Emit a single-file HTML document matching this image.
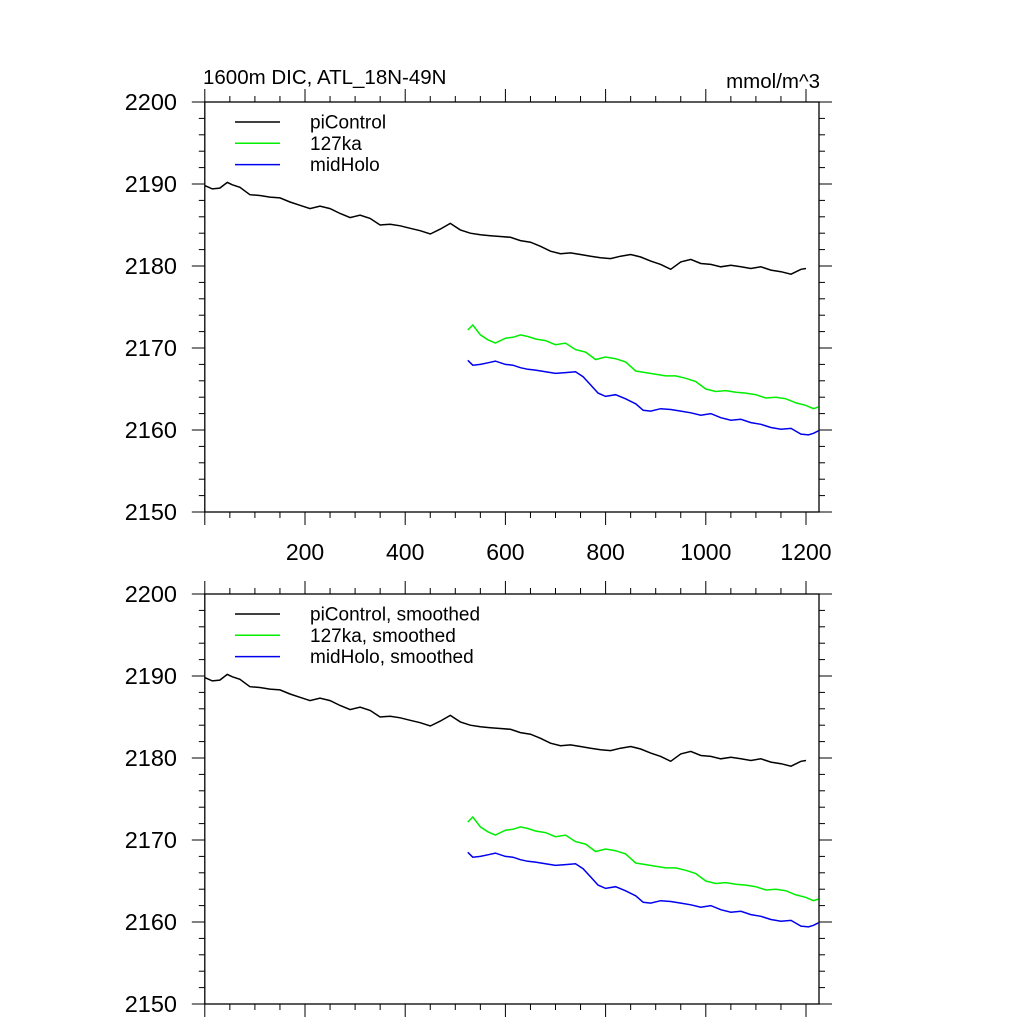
<!DOCTYPE html>
<html><head><meta charset="utf-8"><style>
html,body{margin:0;padding:0;background:#fff}
svg{display:block}
text{font-family:"Liberation Sans",Arial,sans-serif;fill:#000}
</style></head><body>
<svg id="chart" width="1024" height="1024" viewBox="0 0 1024 1024" xmlns="http://www.w3.org/2000/svg">
<text x="203" y="84" font-size="20.5">1600m DIC, ATL_18N-49N</text>
<text x="820" y="88" font-size="20.5" text-anchor="end">mmol/m^3</text>
</svg>
<script>
const piYears = [0,15,30,45,55,70,90,110,130,150,170,190,210,230,250,270,290,310,330,350,370,390,410,430,450,470,490,510,530,550,570,590,610,630,650,670,690,710,730,750,770,790,810,830,850,870,890,910,930,950,970,990,1010,1030,1050,1070,1090,1110,1130,1150,1170,1190,1200];
const piValues = [2189.8,2189.4,2189.5,2190.2,2189.9,2189.6,2188.7,2188.6,2188.4,2188.3,2187.8,2187.4,2187.0,2187.3,2187.0,2186.4,2185.9,2186.2,2185.8,2185.0,2185.1,2184.9,2184.6,2184.3,2183.9,2184.5,2185.2,2184.4,2184.0,2183.8,2183.7,2183.6,2183.5,2183.1,2182.9,2182.4,2181.8,2181.5,2181.6,2181.4,2181.2,2181.0,2180.9,2181.2,2181.4,2181.1,2180.6,2180.2,2179.6,2180.5,2180.8,2180.3,2180.2,2179.9,2180.1,2179.9,2179.7,2179.9,2179.5,2179.3,2179.0,2179.6,2179.7];
const laYears = [525,535,550,565,580,600,615,630,645,660,680,700,720,740,760,780,800,820,840,860,880,900,920,940,960,980,1000,1020,1040,1060,1080,1100,1120,1140,1160,1180,1200,1215,1225];
const laValues = [2172.2,2172.8,2171.6,2171.0,2170.6,2171.2,2171.3,2171.6,2171.4,2171.1,2170.9,2170.4,2170.6,2169.8,2169.5,2168.6,2168.9,2168.7,2168.3,2167.2,2167.0,2166.8,2166.6,2166.6,2166.3,2165.9,2165.0,2164.7,2164.8,2164.6,2164.5,2164.3,2163.9,2164.0,2163.8,2163.3,2163.0,2162.6,2162.8];
const mhYears = [525,535,550,565,580,600,615,630,645,660,680,700,720,740,755,770,785,800,820,840,860,875,890,910,930,950,970,990,1010,1030,1050,1070,1090,1110,1130,1150,1170,1190,1205,1215,1225];
const mhValues = [2168.5,2167.9,2168.0,2168.2,2168.4,2168.0,2167.9,2167.6,2167.4,2167.3,2167.1,2166.9,2167.0,2167.1,2166.5,2165.5,2164.5,2164.1,2164.3,2163.8,2163.2,2162.4,2162.3,2162.6,2162.5,2162.3,2162.1,2161.8,2162.0,2161.5,2161.2,2161.3,2160.9,2160.7,2160.3,2160.1,2160.2,2159.5,2159.4,2159.6,2159.9];
const xTicks = [200,400,600,800,1000,1200];
const yTicks = [2150,2160,2170,2180,2190,2200];
const legendTop = ["piControl","127ka","midHolo"];
const legendBottom = ["piControl, smoothed","127ka, smoothed","midHolo, smoothed"];

const NS="http://www.w3.org/2000/svg";
const svg=document.getElementById('chart');
const L=204.8, R=819, XMIN=0, XMAX=(819-204.8)/0.501;
function xs(v){return L+(v-XMIN)/(XMAX-XMIN)*(R-L);}
function mk(tag,attrs,parent){const e=document.createElementNS(NS,tag);for(const k in attrs)e.setAttribute(k,attrs[k]);(parent||svg).appendChild(e);return e;}

function panel(top,bottom,showX,legend,prefix){
  const g=mk('g',{});
  
  
  const ys=v=>bottom-(v-2150)/50*(bottom-top);
  const fr=mk('rect',{x:L,y:top,width:R-L,height:bottom-top,fill:'none',stroke:'#000','stroke-width':1.3},g);
  
  
  for(let v=0;v<=XMAX;v+=50){
    const x=xs(v), maj=v%200===0, len=maj?13:6;
    mk('line',{x1:x,y1:bottom,x2:x,y2:bottom+len,stroke:'#000','stroke-width':1},g);
    mk('line',{x1:x,y1:top,x2:x,y2:top-len,stroke:'#000','stroke-width':1},g);
  }
  for(let v=2150;v<=2200;v+=2){
    const y=ys(v), maj=(v%10===0), len=maj?13:6;
    mk('line',{x1:L,y1:y,x2:L-len,y2:y,stroke:'#000','stroke-width':1},g);
    mk('line',{x1:R,y1:y,x2:R+len,y2:y,stroke:'#000','stroke-width':1},g);
  }
  yTicks.forEach(v=>{const t=mk('text',{x:177,y:ys(v)+8,'font-size':23.5,'text-anchor':'end'},g);t.textContent=v;
    
    });
  if(showX) xTicks.forEach(v=>{const t=mk('text',{x:xs(v),y:bottom+48,'font-size':23,'text-anchor':'middle'},g);t.textContent=v;
    
    });
  const series=[[piYears,piValues,'#000'],[laYears,laValues,'#00ee00'],[mhYears,mhValues,'#0000ee']];
  const names=['picontrol','127ka','midholo'];
  series.forEach((s,i)=>{
    const d=s[0].map((yr,j)=>(j?'L':'M')+xs(yr).toFixed(1)+','+ys(s[1][j]).toFixed(1)).join(' ');
    const p=mk('path',{d:d,fill:'none',stroke:s[2],'stroke-width':1.5},g);
    
    
    const ly=top+20+i*21.3;
    const ll=mk('line',{x1:235,y1:ly,x2:280,y2:ly,stroke:s[2],'stroke-width':1.5},g);
    
    
    const lt=mk('text',{x:310,y:ly+6.5,'font-size':19},g);lt.textContent=legend[i];
    
    
  });
}
panel(102,512,true,legendTop,'top');
panel(594,1004,false,legendBottom,'bottom');
</script>
</body></html>
